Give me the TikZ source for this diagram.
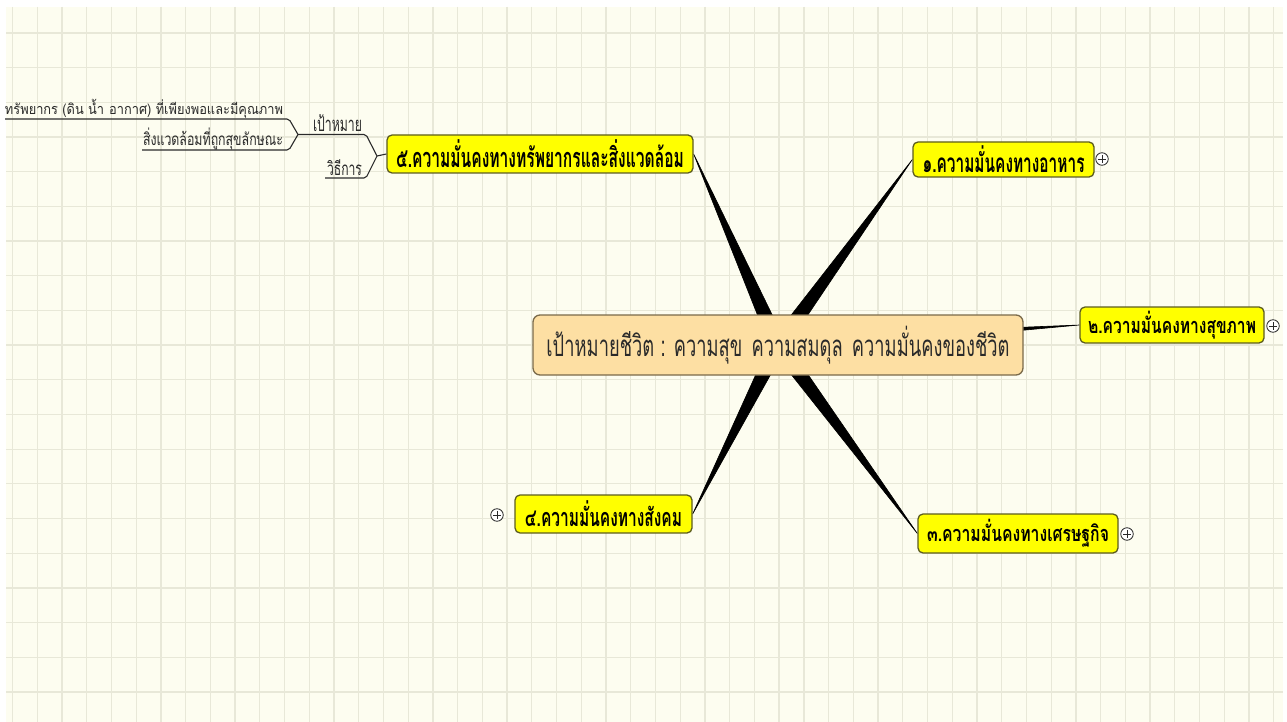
\documentclass[tikz,border=0pt]{standalone}
\usepackage{fontspec}
\usepackage{graphicx}
\newfontfamily\thai[Script=Thai]{Loma}
\usetikzlibrary{calc}
\definecolor{bgc}{HTML}{FDFDF0}
\definecolor{gridc}{HTML}{E8E8D8}
\definecolor{ylw}{HTML}{FFFF00}
\definecolor{ybd}{HTML}{5C5C20}
\definecolor{tanc}{HTML}{FDDFA3}
\definecolor{tbd}{HTML}{7A6A4A}
\definecolor{inkc}{HTML}{2A2A2A}
\newcommand{\fit}[3]{\resizebox*{#1bp}{#2bp}{\thai #3}}
\pgfdeclarelayer{gridlayer}
\pgfdeclarelayer{spokelayer}
\pgfsetlayers{gridlayer,spokelayer,main}
\newcommand{\spoke}[1]{\filldraw[black, line width=0.6bp] ($(ctr.center)!8bp!90:(#1)$) -- (#1) -- ($(ctr.center)!8bp!-90:(#1)$) -- cycle;}
\begin{document}
\begin{tikzpicture}[x=1bp,y=-1bp,
  topic/.style={draw=ybd, line width=1.3bp, fill=ylw, rounded corners=5bp, inner sep=0pt, text=black},
  central/.style={draw=tbd, line width=1.3bp, fill=tanc, rounded corners=7bp, inner sep=0pt, text=inkc},
  lbl/.style={inner sep=0pt, text=inkc},
  branch/.style={draw=inkc, line width=1.1bp, rounded corners=2bp},
  pluscirc/.style={circle, draw=inkc, line width=0.8bp, fill=white, minimum size=12.5bp, inner sep=0pt,
    path picture={\draw[inkc, line width=0.9bp] ([xshift=-3.6bp]path picture bounding box.center) -- ([xshift=3.6bp]path picture bounding box.center);
                  \draw[inkc, line width=0.9bp] ([yshift=-3.6bp]path picture bounding box.center) -- ([yshift=3.6bp]path picture bounding box.center);}}
]
\useasboundingbox (0,0) rectangle (1287,722);
\begin{pgfonlayer}{gridlayer}
  \fill[white] (0,0) rectangle (1287,722);
  \fill[bgc] (6,7) rectangle (1283,722);
  \foreach \i in {0,...,51} \draw[gridc, line width=1.3bp] ({12.5+24.73*\i},7) -- ({12.5+24.73*\i},722);
  \foreach \j in {0,...,19} \draw[gridc, line width=1.3bp] (6,{33+34.68*\j}) -- (1283,{33+34.68*\j});
\end{pgfonlayer}

% central topic
\node[central, minimum width=490bp, minimum height=60bp] (ctr) at (778,345)
  {\fit{463}{38}{เป้าหมายชีวิต : ความสุข\hspace{0.5em}ความสมดุล\hspace{0.5em}ความมั่นคงของชีวิต}};

% main topics
\node[topic, minimum width=306bp, minimum height=38bp] (n5) at (540,154)
  {\fit{288}{28}{\bfseries ๕.ความมั่นคงทางทรัพยากรและสิ่งแวดล้อม}};
\node[topic, minimum width=181bp, minimum height=35bp] (n1) at (1003.5,159.5)
  {\fit{162}{27}{\bfseries ๑.ความมั่นคงทางอาหาร}};
\node[topic, minimum width=184bp, minimum height=36bp] (n2) at (1172,325)
  {\fit{168}{28}{\bfseries ๒.ความมั่นคงทางสุขภาพ}};
\node[topic, minimum width=200bp, minimum height=39bp] (n3) at (1018,533.5)
  {\fit{182}{28}{\bfseries ๓.ความมั่นคงทางเศรษฐกิจ}};
\node[topic, minimum width=177bp, minimum height=38bp] (n4) at (603.5,514)
  {\fit{157}{26}{\bfseries ๔.ความมั่นคงทางสังคม}};

% collapsed markers
\node[pluscirc] (p1) at (1102,159) {};
\node[pluscirc] (p2) at (1273,326) {};
\node[pluscirc] (p3) at (1127,534) {};
\node[pluscirc] (p4) at (497,515) {};

% spokes
\begin{pgfonlayer}{spokelayer}
  \spoke{n5.east}
  \spoke{n1.west}
  \spoke{n2.west}
  \spoke{n3.west}
  \spoke{n4.east}
\end{pgfonlayer}

% subtopics of 5
\node[lbl] (goal) at (337.5,123) {\fit{49}{17}{เป้าหมาย}};
\node[lbl] (how) at (344.5,167.5) {\fit{35}{16}{วิธีการ}};
\node[lbl] (res) at (144,109) {\fit{278}{19}{ทรัพยากร (ดิน น้ำ\hspace{0.4em}อากาศ) ที่เพียงพอและมีคุณภาพ}};
\node[lbl] (env) at (213,139) {\fit{140}{22}{สิ่งแวดล้อมที่ถูกสุขลักษณะ}};

\coordinate (pA) at (298,134.5);
\coordinate (pB) at (377,156);
\coordinate (resL) at (5,119);
\coordinate (envL) at (142,150);
\coordinate (howL) at (325,178);

\draw[branch] (resL) -- (289,119) -- (pA);
\draw[branch] (envL) -- (289,150) -- (pA);
\draw[branch] (pA) -- (366,134.5) -- (pB);
\draw[branch] (howL) -- (366,178) -- (pB);
\draw[branch] (pB) -- (n5.west);
\end{tikzpicture}
\end{document}
